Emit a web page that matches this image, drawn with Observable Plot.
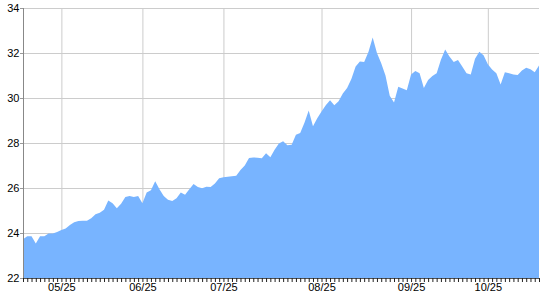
<!DOCTYPE html>
<html>
<head>
<meta charset="utf-8">
<script src="https://cdn.jsdelivr.net/npm/d3@7"></script>
<script src="https://cdn.jsdelivr.net/npm/@observablehq/plot@0.6"></script>
<style>
  html, body { margin: 0; padding: 0; background: #fff; }
  #chart svg { display: block; }
</style>
</head>
<body>
<div id="chart"></div>
<script>
// Values (one per trading-day tick)
const values = [
  23.72, 23.86, 23.86, 23.53, 23.86, 23.86, 23.98, 23.98, 24.05, 24.13,
  24.20, 24.36, 24.48, 24.53, 24.54, 24.54, 24.66, 24.83, 24.90, 25.03,
  25.45, 25.32, 25.10, 25.30, 25.60, 25.65, 25.60, 25.65, 25.32, 25.80,
  25.90, 26.30, 25.95, 25.65, 25.48, 25.42, 25.55, 25.80, 25.70, 25.95,
  26.18, 26.05, 25.99, 26.06, 26.04, 26.20, 26.43, 26.48, 26.50, 26.52,
  26.55, 26.80, 27.00, 27.33, 27.36, 27.35, 27.32, 27.55, 27.37, 27.70,
  27.98, 28.08, 27.90, 27.92, 28.37, 28.45, 28.90, 29.44, 28.75, 29.10,
  29.40, 29.68, 29.90, 29.68, 29.86, 30.20, 30.45, 30.85, 31.40, 31.62,
  31.60, 32.05, 32.69, 32.00, 31.55, 31.00, 30.10, 29.80, 30.50, 30.42,
  30.35, 31.05, 31.20, 31.10, 30.45, 30.80, 30.98, 31.10, 31.70, 32.16,
  31.85, 31.60, 31.69, 31.40, 31.10, 31.05, 31.75, 32.06, 31.90, 31.50,
  31.27, 31.10, 30.60, 31.15, 31.10, 31.05, 31.02, 31.22, 31.35, 31.28,
  31.15, 31.45
];
const tickLabels = ["05/25", "06/25", "07/25", "08/25", "09/25", "10/25"];
const tickIndex = [9, 28, 47, 70, 91, 109];
const yTicks = [22, 24, 26, 28, 30, 32, 34];

const data = values.map((v, i) => ({i, v}));
const allIdx = values.map((_, i) => i);
const labelOf = new Map(tickIndex.map((t, k) => [t, tickLabels[k]]));

const chart = Plot.plot({
  width: 540,
  height: 300,
  marginLeft: 23,
  marginRight: 1,
  marginTop: 8,
  marginBottom: 22,
  style: {fontFamily: "'Liberation Sans', Arial, sans-serif", fontSize: "11px", color: "#000", background: "#fff"},
  x: {type: "linear", domain: [0, values.length - 1]},
  y: {domain: [22, 34]},
  marks: [
    Plot.gridY(yTicks, {stroke: "#cccccc", strokeOpacity: 1}),
    Plot.gridX(tickIndex, {stroke: "#cccccc", strokeOpacity: 1}),
    Plot.areaY(data, {x: "i", y1: 22, y2: "v", fill: "#78b4ff", curve: "linear"}),
    Plot.axisY(yTicks, {tickSize: 3, tickPadding: 1, stroke: "#999", fill: "#000", label: null, tickFormat: d => String(d)}),
    Plot.ruleX([0], {stroke: "#888"}),
    Plot.ruleY([22], {stroke: "#555"}),
    Plot.axisX(allIdx, {tickSize: 4, stroke: "#222", tickFormat: () => "", label: null}),
    Plot.axisX(tickIndex, {tickSize: 0, tickPadding: 5, fill: "#000", tickFormat: d => labelOf.get(d), label: null})
  ]
});
document.getElementById("chart").appendChild(chart);
</script>
</body>
</html>
